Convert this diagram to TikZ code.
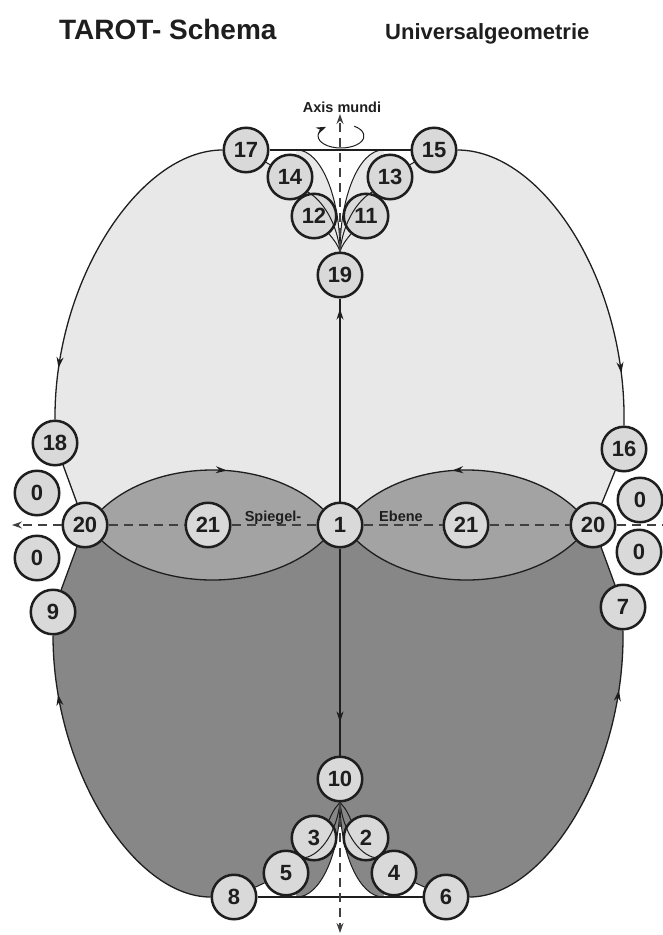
\documentclass[tikz,border=0pt]{standalone}
\usepackage{fontspec}
\setmainfont{Liberation Sans}
\usetikzlibrary{arrows.meta,backgrounds,decorations.markings}
\definecolor{tarotInk}{HTML}{1E1E1E}
\definecolor{tarotCard}{HTML}{D9D9D9}
\definecolor{tarotUpper}{HTML}{E8E8E8}
\definecolor{tarotLens}{HTML}{A3A3A3}
\definecolor{tarotLower}{HTML}{878787}
\tikzset{
  tarot/card/.style={circle, draw=tarotInk, fill=tarotCard, line width=2.5pt,
    minimum size=44.5pt, inner sep=0pt, text=tarotInk,
    font=\fontsize{22}{22}\selectfont\bfseries},
  tarot/line/.style={draw=tarotInk, line width=1.3pt},
  tarot/thin/.style={draw=tarotInk, line width=1pt},
  tarot/axis/.style={draw=tarotInk!85, line width=1.2pt,
    dash pattern=on 9pt off 6pt},
  tarot/tip/.style={-{Stealth[length=10pt,width=7pt]}},
  tarot/midarrow/.style={postaction={decorate}, decoration={markings,
    mark=at position #1 with {\arrow{Stealth[length=11pt,width=7pt]}}}},
  tarot/label/.style={font=\fontsize{14.5}{14.5}\selectfont\bfseries,
    text=tarotInk, inner sep=0pt},
}

\begin{document}
\begin{tikzpicture}[x=1pt,y=-1pt]
\useasboundingbox (0,0) rectangle (663,935);
\node[font=\fontsize{28}{28}\selectfont\bfseries, text=tarotInk, anchor=base west,
  inner sep=0pt] (title) at (59,39) {TAROT- Schema};
\node[font=\fontsize{22}{22}\selectfont\bfseries, text=tarotInk, anchor=base west,
  inner sep=0pt] (subtitle) at (385,39) {Universalgeometrie};

% upper arch
\node[tarot/card] (c17) at (246,150) {17};
\node[tarot/card] (c15) at (434,150) {15};
\node[tarot/card] (c14) at (290,177) {14};
\node[tarot/card] (c13) at (390,177) {13};
\node[tarot/card] (c12) at (314,216) {12};
\node[tarot/card] (c11) at (366,216) {11};
\node[tarot/card] (c19) at (340,275) {19};

% left and right rims
\node[tarot/card] (c18) at (55,443) {18};
\node[tarot/card] (cZa) at (37,493) {0};
\node[tarot/card] (c20L) at (85,525) {20};
\node[tarot/card] (cZb) at (37,558) {0};
\node[tarot/card] (c9) at (53,612) {9};
\node[tarot/card] (c16) at (624,449) {16};
\node[tarot/card] (cZc) at (640,500) {0};
\node[tarot/card] (c20R) at (593,525) {20};
\node[tarot/card] (cZd) at (639,552) {0};
\node[tarot/card] (c7) at (623,607) {7};

% mirror plane
\node[tarot/card] (c21L) at (208,525) {21};
\node[tarot/card] (c1) at (340,525) {1};
\node[tarot/card] (c21R) at (466,525) {21};
\node[tarot/label, anchor=base] (spiegel) at (273,521) {Spiegel-};
\node[tarot/label, anchor=base] (ebene) at (401,521) {Ebene};

% lower arch
\node[tarot/card] (c10) at (340,779) {10};
\node[tarot/card] (c3) at (314,838) {3};
\node[tarot/card] (c2) at (366,838) {2};
\node[tarot/card] (c5) at (286,873) {5};
\node[tarot/card] (c4) at (394,873) {4};
\node[tarot/card] (c8) at (234,897) {8};
\node[tarot/card] (c6) at (446,897) {6};

\node[tarot/label, anchor=base] (axis) at (342,112) {Axis mundi};
\coordinate (spin) at (341,136);
\coordinate (axtop) at (340,114);
\coordinate (axbot) at (340,933);
\coordinate (axleft) at (12,525);
\coordinate (axright) at (663,525);
\coordinate (cuspTL) at (297,150);
\coordinate (cuspTR) at (383,150);
\coordinate (cuspBL) at (297,897);
\coordinate (cuspBR) at (383,897);

\begin{scope}[on background layer]
  \fill[tarotUpper] (c20L.center) -- (c18.center) -- (c18.north)
    .. controls (54,280) and (140,150) .. (c17.west) -- (c17.center)
    -- (c14.center) -- (cuspTL) .. controls (321,150) and (340,197) .. (c19.north)
    .. controls (340,197) and (359,150) .. (cuspTR) -- (c13.center)
    -- (c15.center) -- (c15.east) .. controls (542,150) and (627,280) .. (c16.north)
    -- (c16.center) -- (c20R.center) -- cycle;
  \fill[tarotLower] (c20L.center) -- (c9.center) -- (c9.south)
    .. controls (53,770) and (134,897) .. (c8.west) -- (c8.center)
    -- (c5.center) -- (cuspBL) .. controls (320,897) and (340,854) .. (c10.south)
    .. controls (340,854) and (360,897) .. (cuspBR) -- (c4.center)
    -- (c6.center) -- (c6.east) .. controls (545,897) and (625,770) .. (c7.south)
    -- (c7.center) -- (c20R.center) -- cycle;
  \fill[tarotLens] (c20L.center) -- (c20L.43) .. controls (158,457) and (267,457) .. (c1.137)
    -- (c1.center) -- (c1.-137) .. controls (267,593) and (158,593) .. (c20L.-43) -- cycle;
  \fill[tarotLens] (c20R.center) -- (c20R.137) .. controls (520,457) and (413,457) .. (c1.43)
    -- (c1.center) -- (c1.-43) .. controls (413,593) and (520,593) .. (c20R.-137) -- cycle;
\end{scope}

% outline
\draw[tarot/line, tarot/midarrow=0.85] (c17.west) .. controls (140,150) and (54,280) .. (c18.north);
\draw[tarot/line] (c18) -- (c20L);
\draw[tarot/line] (c20L) -- (c9);
\draw[tarot/line, tarot/midarrow=0.82] (c8.west) .. controls (134,897) and (53,770) .. (c9.south);
\draw[tarot/line, tarot/midarrow=0.85] (c15.east) .. controls (542,150) and (627,280) .. (c16.north);
\draw[tarot/line] (c16) -- (c20R);
\draw[tarot/line] (c20R) -- (c7);
\draw[tarot/line, tarot/midarrow=0.82] (c6.east) .. controls (545,897) and (625,770) .. (c7.south);

% lenses
\draw[tarot/line, tarot/midarrow=0.56] (c20L.43) .. controls (158,457) and (267,457) .. (c1.137);
\draw[tarot/line] (c20L.-43) .. controls (158,593) and (267,593) .. (c1.-137);
\draw[tarot/line, tarot/midarrow=0.56] (c20R.137) .. controls (520,457) and (413,457) .. (c1.43);
\draw[tarot/line] (c20R.-137) .. controls (520,593) and (413,593) .. (c1.-43);

% cusps
\draw[tarot/line] (c17) -- (c15);
\draw[tarot/thin] (c17) -- (c14);
\draw[tarot/thin] (c14) -- (c12);
\draw[tarot/thin] (c15) -- (c13);
\draw[tarot/thin] (c13) -- (c11);
\draw[tarot/thin] (cuspTL) .. controls (321,150) and (340,197) .. (c19.north);
\draw[tarot/thin] (cuspTR) .. controls (359,150) and (340,197) .. (c19.north);
\draw[tarot/thin] (c14.-40) .. controls (322,200) and (337,222) .. (c19.north);
\draw[tarot/thin] (c13.-140) .. controls (358,200) and (343,222) .. (c19.north);
\draw[tarot/thin] (c12.-50) .. controls (334,240) and (338,245) .. (c19.north);
\draw[tarot/thin] (c11.-130) .. controls (346,240) and (342,245) .. (c19.north);
\draw[tarot/line] (c8) -- (c6);
\draw[tarot/thin] (c8) -- (c5);
\draw[tarot/thin] (c5) -- (c3);
\draw[tarot/thin] (c6) -- (c4);
\draw[tarot/thin] (c4) -- (c2);
\draw[tarot/thin] (cuspBL) .. controls (320,897) and (340,854) .. (c10.south);
\draw[tarot/thin] (cuspBR) .. controls (360,897) and (340,854) .. (c10.south);
\draw[tarot/thin] (c5.40) .. controls (322,855) and (337,830) .. (c10.south);
\draw[tarot/thin] (c4.140) .. controls (358,855) and (343,830) .. (c10.south);
\draw[tarot/thin] (c3.50) .. controls (334,808) and (338,805) .. (c10.south);
\draw[tarot/thin] (c2.130) .. controls (346,808) and (342,805) .. (c10.south);

% axes
\draw[tarot/line, tarot/midarrow=0.95] (c1) -- (c19);
\draw[tarot/line, tarot/midarrow=0.84] (c1) -- (c10);
\draw[tarot/axis, tarot/tip] (c19) -- (axtop);
\draw[tarot/axis, tarot/tip] (c10) -- (axbot);
\draw[tarot/axis, tarot/tip] (c20L) -- (axleft);
\draw[tarot/axis] (c20L) -- (c21L);
\draw[tarot/axis] (c21L) -- (c1);
\draw[tarot/axis] (c1) -- (c21R);
\draw[tarot/axis] (c21R) -- (c20R);
\draw[tarot/axis] (c20R) -- (axright);
\draw[tarot/thin, tarot/tip] (spin) ++(55:23pt and 12pt)
  arc[start angle=55, end angle=-230, x radius=23pt, y radius=12pt];
\end{tikzpicture}
\end{document}
